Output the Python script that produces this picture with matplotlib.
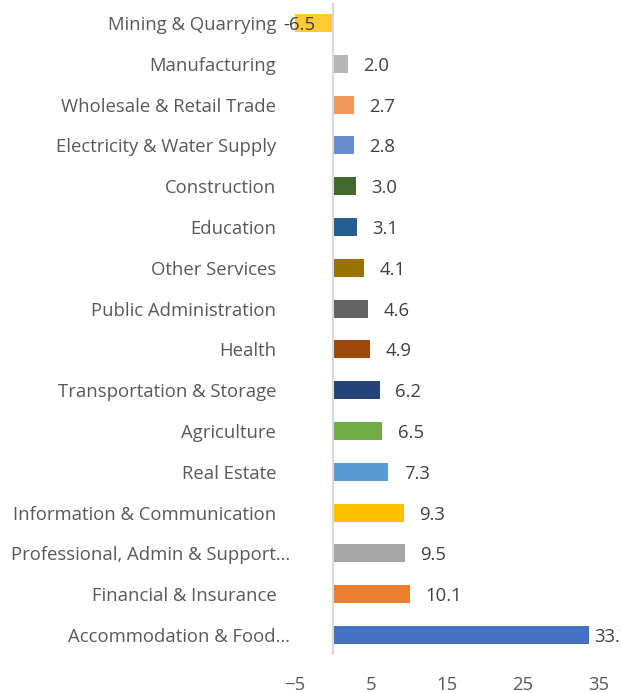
import matplotlib.pyplot as plt
import matplotlib.transforms as mtransforms

# sectors listed bottom to top
sectors = [
    "Accommodation & Food…",
    "Financial & Insurance",
    "Professional, Admin & Support…",
    "Information & Communication",
    "Real Estate",
    "Agriculture",
    "Transportation & Storage",
    "Health",
    "Public Administration",
    "Other Services",
    "Education",
    "Construction",
    "Electricity & Water Supply",
    "Wholesale & Retail Trade",
    "Manufacturing",
    "Mining & Quarrying",
]
growth = [33.7, 10.1, 9.5, 9.3, 7.3, 6.5, 6.2, 4.9, 4.6, 4.1, 3.1, 3.0, 2.8, 2.7, 2.0, -6.5]
colors = [
    "#4472C4", "#ED7D31", "#A5A5A5", "#FFC000", "#5B9BD5", "#70AD47",
    "#264478", "#9E480E", "#636363", "#997300", "#255E91", "#43682B",
    "#698ED0", "#F1975A", "#B7B7B7", "#FFCD33",
]
xticks = [-5, 5, 15, 25, 35]

plt.rcParams["font.family"] = ["Open Sans", "DejaVu Sans"]
text_color = "#595959"
fs = 13.3

fig = plt.figure(figsize=(6.21, 6.93), dpi=100)
ax = fig.add_axes([295 / 621, 1 - 655.4 / 693, 304 / 621, 652.8 / 693])

ypos = list(range(len(sectors)))
ax.barh(ypos, growth, height=0.44, color=colors, zorder=2)
ax.axvline(0, color="#D9D9D9", linewidth=1.5, zorder=3)

for y, v in zip(ypos, growth):
    if v < 0:
        # bar runs past the axis minimum, so its label sits at the left edge
        ax.text(-5 - 1.6, y, f"{v:.1f}", va="center_baseline", ha="left",
                fontsize=fs, color="#404040", zorder=4, clip_on=False)
    else:
        ax.text(min(v + 2.0, 34.4), y, f"{v:.1f}", va="center_baseline", ha="left",
                fontsize=fs, color="#404040", clip_on=False)

ax.set_xlim(-5, 35)
ax.set_ylim(-0.5, len(sectors) - 0.5)
ax.set_xticks(xticks)
ax.set_yticks(ypos)
ax.set_yticklabels(sectors)
ax.tick_params(axis="both", length=0, labelsize=fs, labelcolor=text_color)
ax.tick_params(axis="y", pad=13.5)
ax.tick_params(axis="x", pad=15)
for lbl in ax.get_yticklabels():
    if lbl.get_text().endswith("…"):
        lbl.set_transform(lbl.get_transform() +
                          mtransforms.ScaledTranslation(14 / 100, 0, fig.dpi_scale_trans))
for s in ax.spines.values():
    s.set_visible(False)

fig.savefig("out.png", dpi=100)
